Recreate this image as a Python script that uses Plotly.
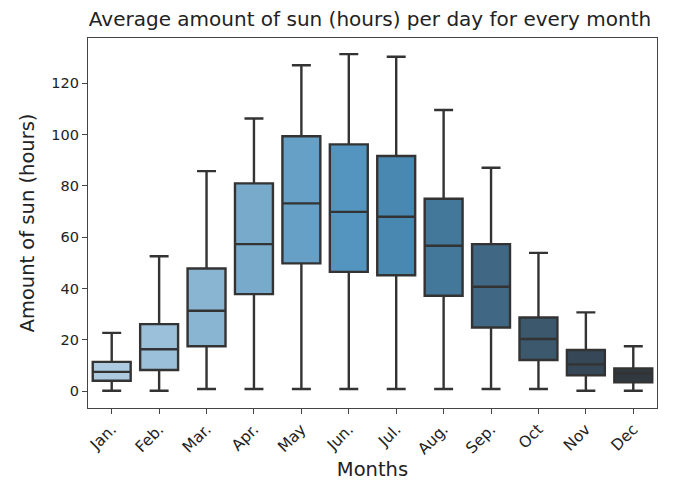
import colorsys
import plotly.graph_objects as go

months = ["Jan.", "Feb.", "Mar.", "Apr.", "May", "Jun.", "Jul.", "Aug.", "Sep.", "Oct", "Nov", "Dec"]
lower = [0.1, 0.1, 0.8, 0.8, 0.8, 0.8, 0.8, 0.8, 0.8, 0.8, 0.1, 0.1]
q1 = [4.0, 8.2, 17.5, 37.8, 49.8, 46.5, 45.2, 37.2, 24.8, 12.1, 6.2, 3.4]
median = [7.5, 16.3, 31.3, 57.3, 73.2, 69.9, 68.0, 56.7, 40.7, 20.3, 10.4, 6.9]
q3 = [11.4, 26.1, 47.8, 81.0, 99.4, 96.2, 91.7, 75.0, 57.3, 28.7, 16.0, 8.8]
upper = [22.7, 52.6, 85.8, 106.3, 127.1, 131.4, 130.4, 109.6, 87.1, 53.9, 30.7, 17.5]
y_ticks = [0, 20, 40, 60, 80, 100, 120]

# seaborn "Blues_d"-like palette, slightly desaturated as seaborn boxplot does
anchors = [(0.66, 0.80, 0.90), (0.259, 0.573, 0.776), (0.19, 0.22, 0.26)]


def blend(t):
    if t <= 0.5:
        a, b, f = anchors[0], anchors[1], t / 0.5
    else:
        a, b, f = anchors[1], anchors[2], (t - 0.5) / 0.5
    return tuple(a[i] + (b[i] - a[i]) * f for i in range(3))


def desat(c, p=0.85):
    h, l, s = colorsys.rgb_to_hls(*c)
    return colorsys.hls_to_rgb(h, l, s * p)


n = len(months)
colors = []
for i in range(n):
    r, g, b = desat(blend(i / (n - 1)))
    colors.append(f"rgb({int(r*255)},{int(g*255)},{int(b*255)})")

fig = go.Figure()
for i, m in enumerate(months):
    fig.add_trace(go.Box(
        x=[m], q1=[q1[i]], median=[median[i]], q3=[q3[i]],
        lowerfence=[lower[i]], upperfence=[upper[i]],
        fillcolor=colors[i],
        line=dict(color="#333333", width=2.4),
        whiskerwidth=0.5, width=0.8, boxpoints=False,
        showlegend=False, hoverinfo="skip",
    ))

font = "DejaVu Sans"
fig.update_layout(
    width=673, height=488,
    margin=dict(l=88, r=16, t=38, b=80),
    paper_bgcolor="white", plot_bgcolor="white",
    boxmode="overlay",
    font=dict(family=font, color="#222222", size=14),
    title=dict(text="Average amount of sun (hours) per day for every month",
               x=(83 + 657) / 2 / 673, xanchor="center", y=1 - 19 / 488, yanchor="middle",
               font=dict(size=20, family=font, color="#222222")),
)
fig.update_xaxes(
    categoryorder="array", categoryarray=months, range=[-0.5, 11.5],
    showline=True, linecolor="#444444", linewidth=1.2, mirror=True,
    ticks="outside", ticklen=5, tickcolor="#444444", tickangle=-45,
    tickfont=dict(size=15.5), showgrid=False,
    title=dict(text="Months", font=dict(size=19.5), standoff=5),
)
fig.update_yaxes(
    range=[-6.6, 137.7], tickvals=y_ticks,
    showline=True, linecolor="#444444", linewidth=1.2, mirror=True,
    ticks="outside", ticklen=5, tickcolor="#444444",
    tickfont=dict(size=14.5), showgrid=False, zeroline=False,
    title=dict(text="Amount of sun (hours)", font=dict(size=19.5), standoff=11),
)

fig.write_html("out.html")
